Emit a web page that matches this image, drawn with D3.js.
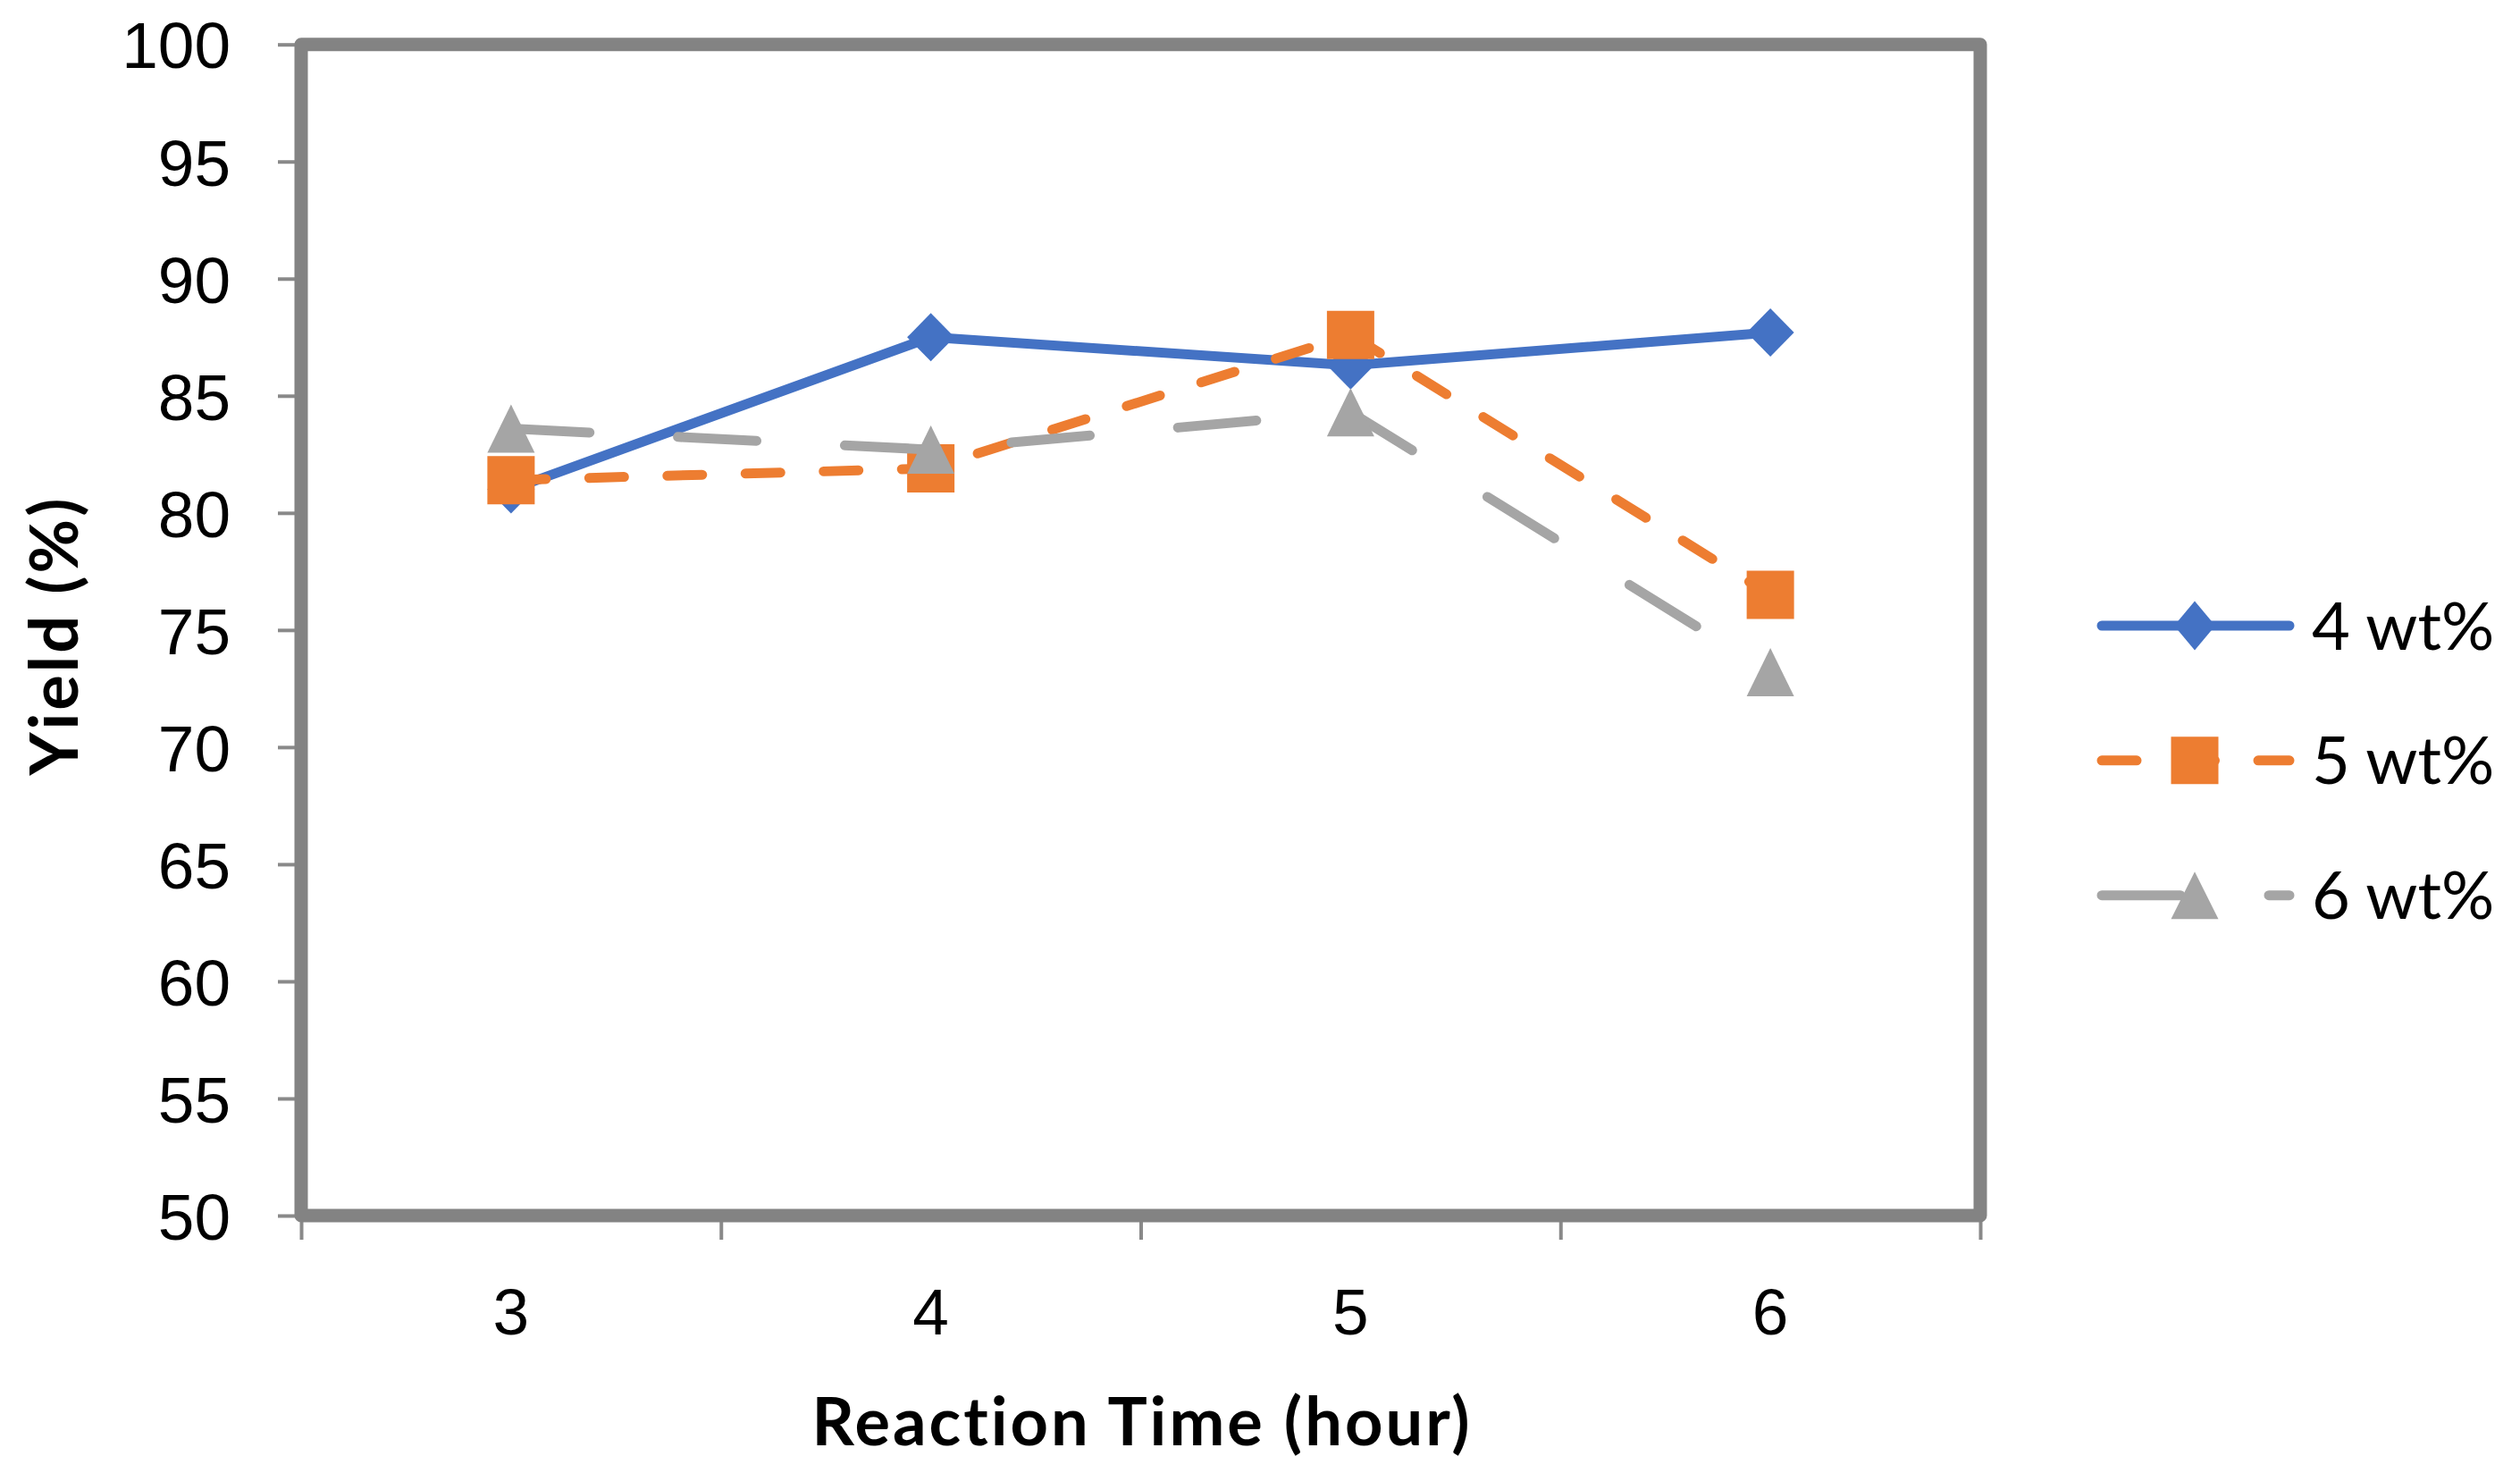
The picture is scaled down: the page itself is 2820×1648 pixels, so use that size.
<!DOCTYPE html>
<html>
<head>
<meta charset="utf-8">
<script src="https://cdn.jsdelivr.net/npm/d3@7"></script>
<style>
  body { margin: 0; background: #fff; }
  svg { display: block; font-family: Lato, "Open Sans", sans-serif; }
</style>
</head>
<body>
<svg id="chart1"></svg>
<script>
// reaction times on the x axis (categories)
const hours = ['3', '4', '5', '6'];
const yTicks = [50, 55, 60, 65, 70, 75, 80, 85, 90, 95, 100];

// yield values
const wt4 = [81.0, 87.5, 86.3, 87.7];
const wt5 = [81.4, 81.9, 87.6, 76.5];
const wt6 = [83.6, 82.7, 84.3, 73.2];

const seriesNames = ['4 wt%', '5 wt%', '6 wt%'];
const seriesColors = ['#4472C4', '#ED7D31', '#A5A5A5'];
const seriesDash = [null, '39 48.5', '88 99'];
const seriesMarker = ['diamond', 'square', 'triangle'];

let w = 2820, h = 1648;
let plotLeft = 337, plotRight = 2216, plotTop = 49.7, plotBottom = 1360;

let chart1 = d3.select('#chart1')
  .attr('width', w)
  .attr('height', h);

let xScale = d3.scaleBand()
  .domain(hours)
  .range([plotLeft, plotRight]);

// used only for the tick marks between categories
let xEdge = d3.scaleLinear()
  .domain([0, hours.length])
  .range([plotLeft, plotRight]);

let yScale = d3.scaleLinear()
  .domain([50, 100])
  .range([plotBottom, plotTop]);

let cx = (i) => xScale(hours[i]) + xScale.bandwidth() / 2;

// marker shapes as paths centred on 0,0
function markerPath(type, mw, mh) {
  let a = mw / 2, b = mh / 2;
  if (type == 'diamond') return `M0,${-b}L${a},0L0,${b}L${-a},0Z`;
  if (type == 'square') return `M${-a},${-b}H${a}V${b}H${-a}Z`;
  return `M0,${-b}L${a},${b}H${-a}Z`;
}

// AXES
let yAxis = d3.axisLeft(yScale)
  .tickValues(yTicks)
  .tickSize(26)
  .tickSizeOuter(0)
  .tickPadding(53);

let yAxisGroup = chart1.append('g')
  .attr('transform', `translate(${plotLeft},0)`)
  .call(yAxis);

let xTickAxis = d3.axisBottom(xEdge)
  .tickValues(d3.range(hours.length + 1))
  .tickFormat('')
  .tickSize(27)
  .tickSizeOuter(0);

chart1.append('g')
  .attr('transform', `translate(0,${plotBottom})`)
  .call(xTickAxis);

let xAxis = d3.axisBottom(xScale)
  .tickSize(0)
  .tickPadding(81);

let xAxisGroup = chart1.append('g')
  .attr('transform', `translate(0,${plotBottom})`)
  .call(xAxis);

chart1.selectAll('.domain').remove();
chart1.selectAll('.tick line')
  .attr('stroke', '#898989')
  .attr('stroke-width', 4);
chart1.selectAll('.tick text')
  .attr('font-size', 73)
  .attr('fill', '#000');
yAxisGroup.selectAll('.tick text').attr('dy', '0.36em');
xAxisGroup.selectAll('.tick text').attr('dy', '0.71em');

// plot area border
chart1.append('rect')
  .attr('x', plotLeft)
  .attr('y', plotTop)
  .attr('width', plotRight - plotLeft)
  .attr('height', plotBottom - plotTop)
  .attr('fill', 'none')
  .attr('stroke', '#838383')
  .attr('stroke-width', 15)
  .attr('stroke-linejoin', 'round');

// SERIES
let allSeries = [wt4, wt5, wt6];
let line = d3.line()
  .x((d, i) => cx(i))
  .y((d) => yScale(d));

allSeries.forEach((vals, s) => {
  chart1.append('path')
    .datum(vals)
    .attr('d', line)
    .attr('fill', 'none')
    .attr('stroke', seriesColors[s])
    .attr('stroke-width', 11)
    .attr('stroke-linecap', 'round')
    .attr('stroke-linejoin', 'round')
    .attr('stroke-dasharray', seriesDash[s]);

  chart1.selectAll('.m' + s)
    .data(vals)
    .enter()
    .append('path')
    .attr('class', 'm' + s)
    .attr('transform', (d, i) => `translate(${cx(i)},${yScale(d)})`)
    .attr('d', markerPath(seriesMarker[s], 53, 54))
    .attr('fill', seriesColors[s]);
});

// LEGEND
let legendY = d3.scalePoint()
  .domain(seriesNames)
  .range([700, 1001.7]);

let legend = chart1.selectAll('.legend')
  .data(seriesNames)
  .enter()
  .append('g')
  .attr('class', 'legend')
  .attr('transform', (d) => `translate(0,${legendY(d)})`);

legend.append('line')
  .attr('x1', 2352)
  .attr('x2', 2562)
  .attr('stroke', (d, i) => seriesColors[i])
  .attr('stroke-width', 11)
  .attr('stroke-linecap', 'round')
  .attr('stroke-dasharray', (d, i) => seriesDash[i]);

legend.append('path')
  .attr('transform', 'translate(2456,0)')
  .attr('d', (d, i) => i == 0 ? markerPath('diamond', 46, 55) : markerPath(seriesMarker[i], 53, 53))
  .attr('fill', (d, i) => seriesColors[i]);

legend.append('text')
  .attr('x', 2587)
  .attr('dy', '0.36em')
  .attr('font-size', 74)
  .text((d) => d);

// axis titles (a little letter spacing to get Calibri-like widths)
chart1.append('text')
  .attr('x', (plotLeft + plotRight) / 2 + 1.5)
  .attr('y', 1617)
  .attr('text-anchor', 'middle')
  .attr('font-size', 74)
  .attr('font-weight', 'bold')
  .attr('letter-spacing', 3)
  .text('Reaction Time (hour)');

chart1.append('text')
  .attr('transform', 'translate(87,711) rotate(-90)')
  .attr('text-anchor', 'middle')
  .attr('font-size', 74)
  .attr('font-weight', 'bold')
  .attr('letter-spacing', 3)
  .text('Yield (%)');
</script>
</body>
</html>
